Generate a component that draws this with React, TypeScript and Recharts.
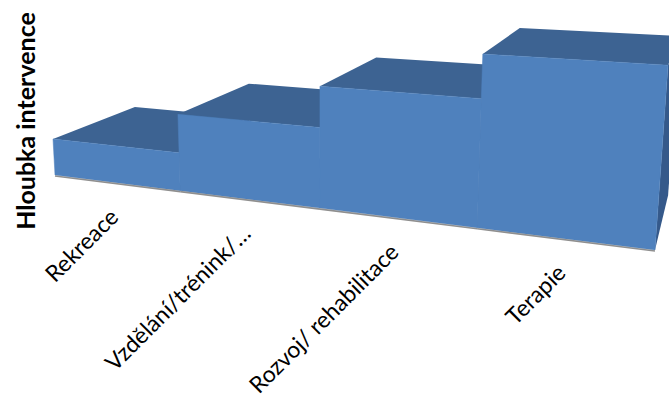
import { BarChart, Bar, XAxis, YAxis } from "recharts";

// kategorie a hloubka intervence (1 = nejmelčí)
const categories = ["Rekreace", "Vzdělání/trénink/…", "Rozvoj/ rehabilitace", "Terapie"];
const depthValues = [1, 2, 3, 4];
const Y_MAX = 4;

const data = categories.map((c, i) => ({ kategorie: c, hloubka: depthValues[i] }));

const W = 669;
const H = 405;
const MARGIN = { top: 20, right: 14, bottom: 0, left: 55 };
const XAXIS_H = 40;
const PLOT_W = W - MARGIN.left - MARGIN.right;
const PLOT_H = H - MARGIN.top - MARGIN.bottom - XAXIS_H;

// perspektiva jako v 3D grafu z Excelu: t = pozice podél osy (0..1), h = hodnota, d = hloubka (0 vpředu, 1 vzadu)
const CAM = { c: -0.209, g: -0.00744, dw: 0.133, a: 463.1, b: 22.75, e: -2.394, f: -37.03, x0: 55, y0: 175, vx: 746, vy: -131 };

const project = (t: number, h: number, d: number) => {
  const w = 1 + CAM.c * t + CAM.g * h + CAM.dw * d;
  const X = (CAM.a * t + CAM.x0 + CAM.e * h + CAM.vx * CAM.dw * d) / w;
  const Y = (CAM.b * t + CAM.y0 + CAM.f * h + CAM.vy * CAM.dw * d) / w;
  return [X, Y];
};

const pts = (list: number[][]) => list.map(p => p.join(",")).join(" ");

const Bar3D = (props: any) => {
  const { x, width, height } = props;
  const t0 = (x - MARGIN.left) / PLOT_W;
  const t1 = (x + width - MARGIN.left) / PLOT_W;
  const h = (height / PLOT_H) * Y_MAX;

  const side = [project(t1, 0, 0), project(t1, h, 0), project(t1, h, 1), project(t1, 0, 1)];
  const top = [project(t0, h, 0), project(t1, h, 0), project(t1, h, 1), project(t0, h, 1)];
  const front = [project(t0, 0, 0), project(t1, 0, 0), project(t1, h, 0), project(t0, h, 0)];
  const b0 = project(t0, 0, 0);
  const b1 = project(t1, 0, 0);

  return (
    <g>
      <polygon points={pts(side)} fill="#35598A" />
      <polygon points={pts(top)} fill="#3D6392" />
      <polygon points={pts(front)} fill="#4F81BD" stroke="#4F81BD" strokeWidth={0.5} />
      <line x1={b0[0]} y1={b0[1] + 1} x2={b1[0]} y2={b1[1] + 1} stroke="#8f8f8f" strokeWidth={1.6} />
    </g>
  );
};

const CategoryTick = (props: any) => {
  const { x, payload } = props;
  const t = (x - MARGIN.left) / PLOT_W;
  const [px, py] = project(t, 0, 0);
  const ax = px + 4;
  const ay = py + 36;
  return (
    <text
      x={ax}
      y={ay}
      transform={`rotate(-45 ${ax} ${ay})`}
      textAnchor="end"
      fontFamily="Lato, sans-serif"
      fontSize={23}
      fill="#000"
    >
      {payload.value}
    </text>
  );
};

const App = () => {
  return (
    <div style={{ position: "absolute", left: 0, top: 0, width: W, height: H, overflow: "hidden", background: "#fff" }}>
      <BarChart width={W} height={H} data={data} margin={MARGIN} barCategoryGap={0}>
        <XAxis
          dataKey="kategorie"
          height={XAXIS_H}
          axisLine={false}
          tickLine={false}
          interval={0}
          tick={(p: any) => <CategoryTick {...p} />}
        />
        <YAxis hide domain={[0, Y_MAX]} />
        <Bar dataKey="hloubka" isAnimationActive={false} shape={(p: any) => <Bar3D {...p} />} />
      </BarChart>
      <div
        style={{
          position: "absolute",
          left: 25,
          top: 121,
          transform: "translate(-50%, -50%) rotate(-90deg)",
          whiteSpace: "nowrap",
          fontFamily: "Lato, sans-serif",
          fontWeight: 700,
          fontSize: 25,
          color: "#000",
        }}
      >
        Hloubka intervence
      </div>
    </div>
  );
};

export default App;
